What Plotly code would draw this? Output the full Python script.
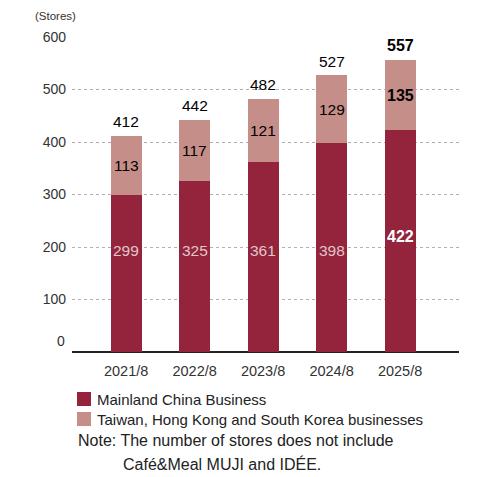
import plotly.graph_objects as go

years = ["2021/8", "2022/8", "2023/8", "2024/8", "2025/8"]
mainland = [299, 325, 361, 398, 422]
others = [113, 117, 121, 129, 135]
totals = [m + o for m, o in zip(mainland, others)]
y_ticks = [0, 100, 200, 300, 400, 500, 600]

DARK = "#93243C"
LIGHT = "#C68E88"
FONT = "Liberation Sans, Arial, sans-serif"

x = list(range(len(years)))
fig = go.Figure()
fig.add_bar(x=x, y=mainland, marker_color=DARK, width=0.45, marker_line_width=0,
            name="Mainland China Business", showlegend=False, hoverinfo="skip")
fig.add_bar(x=x, y=others, marker_color=LIGHT, width=0.45, marker_line_width=0,
            name="Taiwan, Hong Kong and South Korea businesses", showlegend=False,
            hoverinfo="skip")

ann = []
n = len(years)
for i in range(n):
    last = i == n - 1
    f = dict(family=FONT, size=16 if last else 15.5, color="#000",
             weight="bold" if last else "normal")
    ann.append(dict(x=i, y=totals[i], yshift=14, text=str(totals[i]), showarrow=False, font=f))
    ann.append(dict(x=i, y=mainland[i] + others[i] / 2, text=str(others[i]), showarrow=False,
                    font=f))
    ann.append(dict(x=i, y=193 if not last else 220, text=str(mainland[i]), showarrow=False,
                    font=dict(family=FONT, size=16 if last else 15.5,
                              color="#ffffff" if last else "#E3C5CB",
                              weight="bold" if last else "normal")))

# pixel helpers
L, R, T, B = 72, 18, 37, 125
W, H = 477, 477
pw, ph = W - L - R, H - T - B
def px(xp):
    return (xp - L) / pw
def py(yp):
    return (H - B - yp) / ph

ann.append(dict(xref="paper", yref="paper", x=px(55), y=py(16), xanchor="center", yanchor="middle",
                text="(Stores)", showarrow=False,
                font=dict(family=FONT, size=11.5, color="#333")))
# zero label sits just above the baseline
ann.append(dict(xref="paper", y=0, x=px(67), xanchor="right", yanchor="bottom", yshift=1,
                text=str(y_ticks[0]), showarrow=False,
                font=dict(family=FONT, size=14, color="#333")))

shapes = []
legend_items = [("Mainland China Business", DARK, 399),
                ("Taiwan, Hong Kong and South Korea businesses", LIGHT, 419)]
for label, col, yy in legend_items:
    shapes.append(dict(type="rect", xref="paper", yref="paper", x0=px(77), x1=px(91),
                       y0=py(yy + 7), y1=py(yy - 7), fillcolor=col, line_width=0))
    ann.append(dict(xref="paper", yref="paper", x=px(95), y=py(yy), xanchor="left", yanchor="middle",
                    text=label, showarrow=False,
                    font=dict(family=FONT, size=15, color="#222")))
ann.append(dict(xref="paper", yref="paper", x=px(76), y=py(441), xanchor="left", yanchor="middle",
                text="Note: The number of stores does not include", showarrow=False,
                font=dict(family=FONT, size=16, color="#222")))
ann.append(dict(xref="paper", yref="paper", x=px(121), y=py(464), xanchor="left", yanchor="middle",
                text="Café&Meal MUJI and IDÉE.", showarrow=False,
                font=dict(family=FONT, size=16, color="#222")))

fig.update_layout(
    barmode="stack",
    width=W, height=H,
    margin=dict(l=L, r=R, t=T, b=B, pad=0),
    paper_bgcolor="white", plot_bgcolor="white",
    annotations=ann, shapes=shapes,
    font=dict(family=FONT, color="#333"),
    xaxis=dict(tickmode="array", tickvals=x, ticktext=years, range=[-0.79, 4.86],
               showgrid=False, zeroline=False, ticks="", showline=False,
               tickfont=dict(family=FONT, size=14.5, color="#333"), ticklabelstandoff=8),
    yaxis=dict(range=[0, 600], tickvals=y_ticks,
               ticktext=[""] + [str(v) for v in y_ticks[1:]],
               showgrid=True, gridcolor="#b0b0b0", griddash="dot", gridwidth=1,
               zeroline=True, zerolinecolor="#222", zerolinewidth=1.5,
               ticks="", tickfont=dict(family=FONT, size=14, color="#333"),
               ticklabelstandoff=5),
)

fig.write_html("out.html")
